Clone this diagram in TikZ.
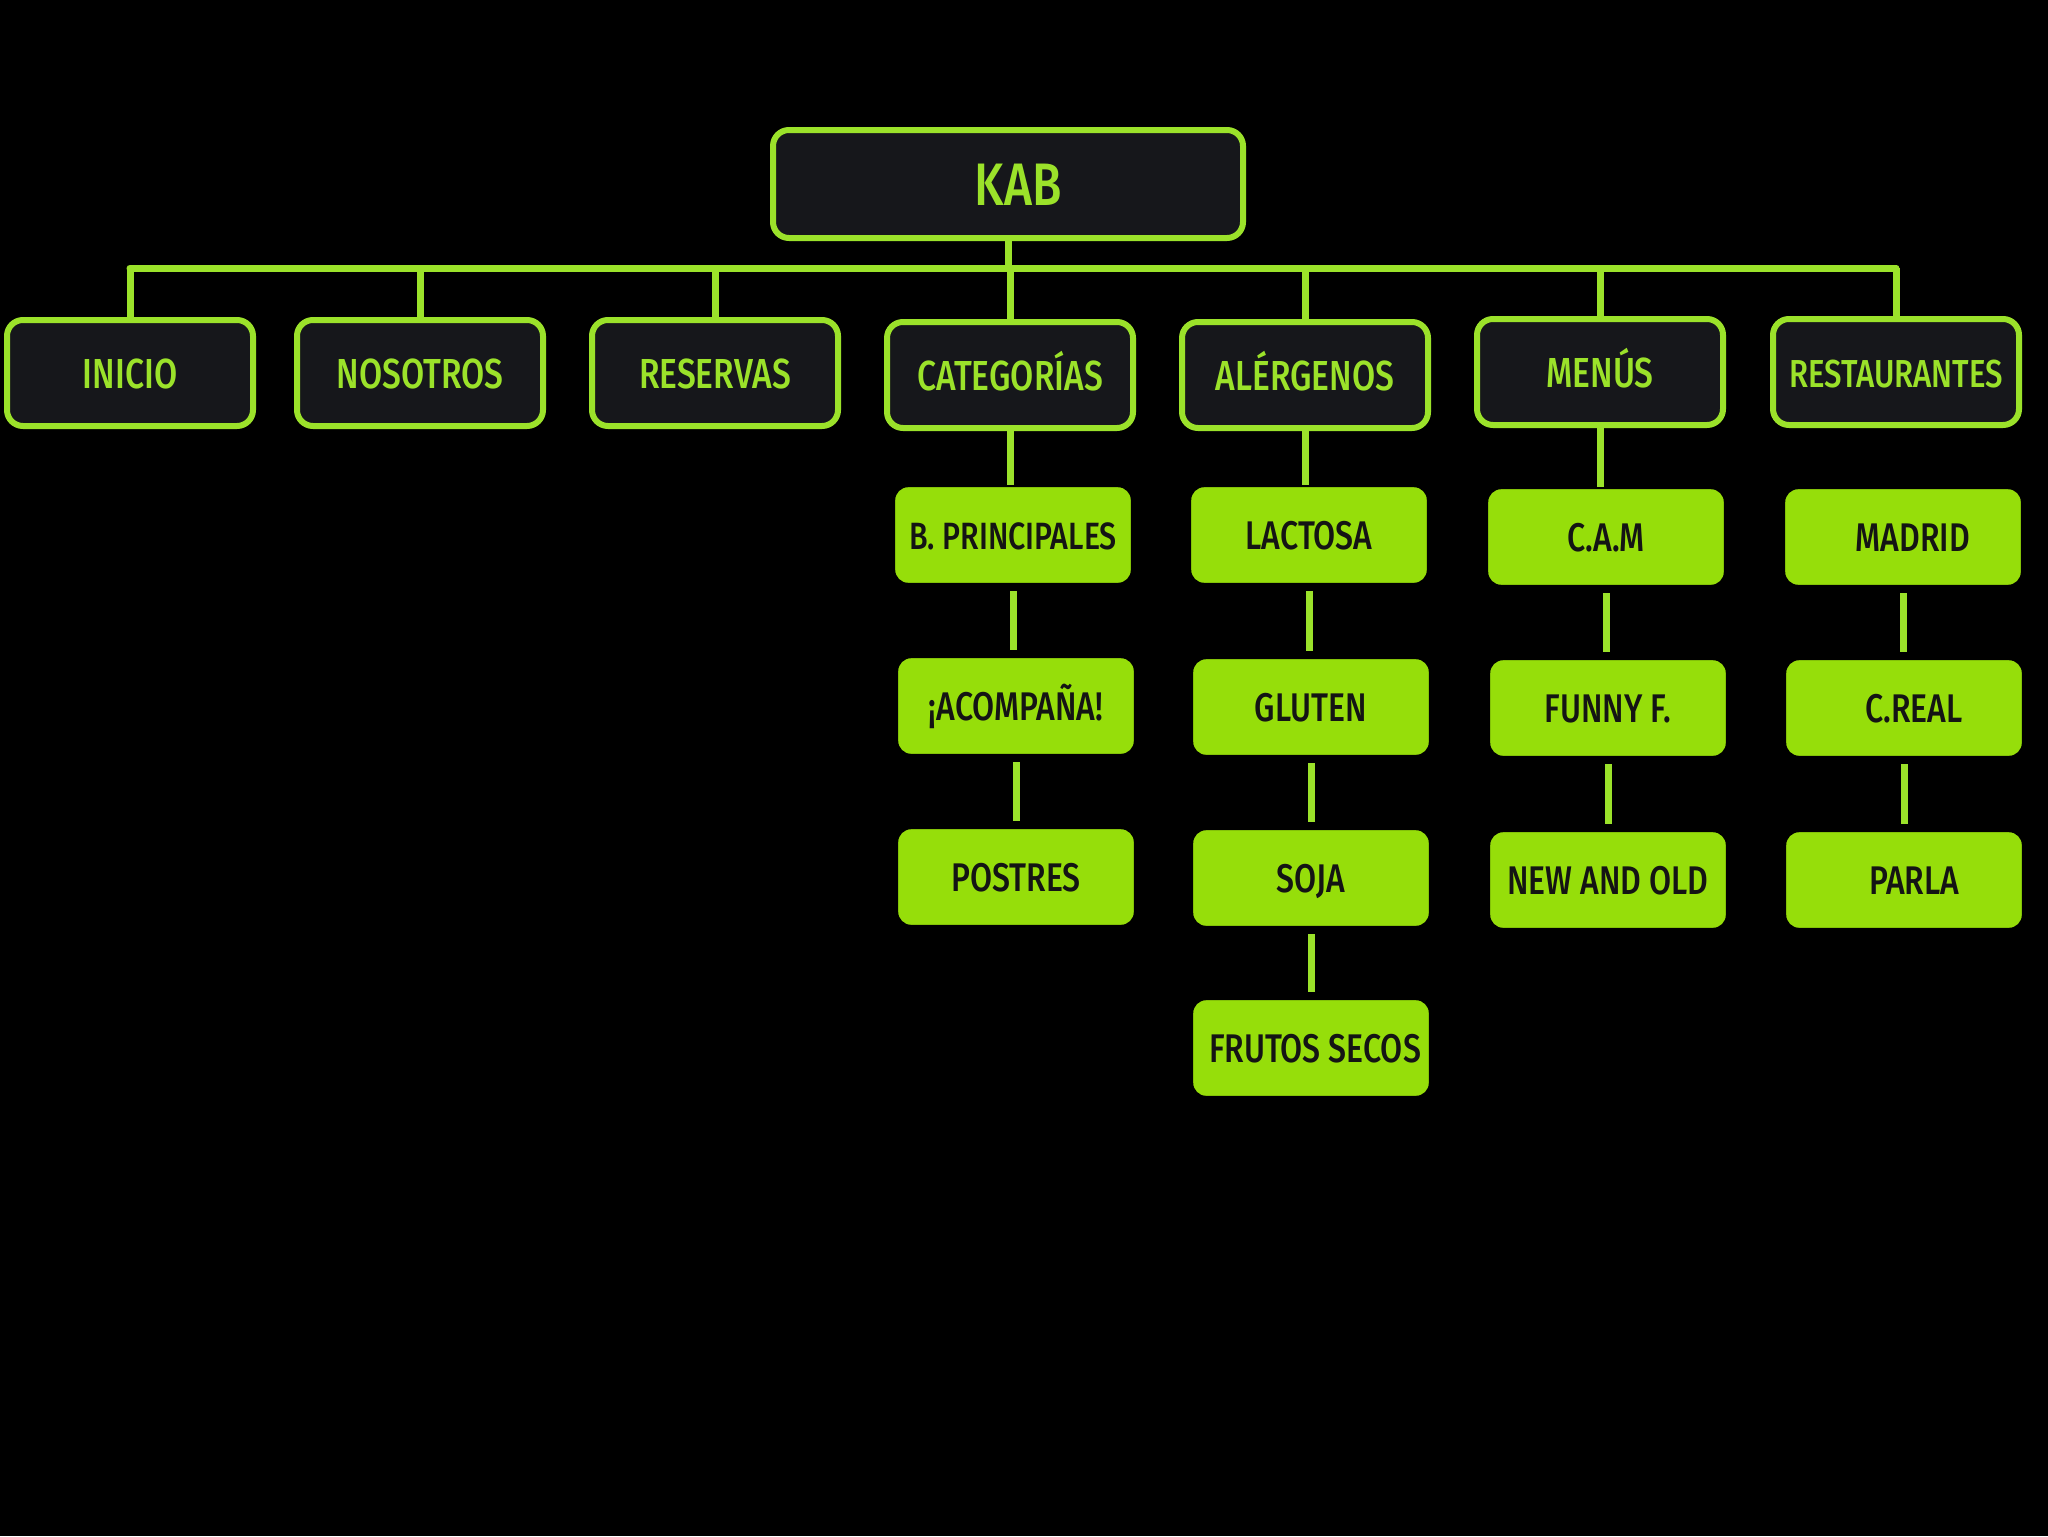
\documentclass[tikz,border=0pt]{standalone}
\usepackage{fontspec}
\newfontfamily\lab{Fira Sans Medium}[FakeStretch=0.8]
\definecolor{lime}{HTML}{96DE0A}
\definecolor{limeline}{HTML}{9BE22A}
\definecolor{darkfill}{HTML}{16171B}
\begin{document}
\begin{tikzpicture}[x=0.5pt,y=-0.5pt,
  darkbox/.style={draw=limeline, line width=3pt, fill=darkfill, rounded corners=8pt,
    minimum width=123pt, minimum height=53pt, inner sep=0pt, text=limeline,
    text height=15pt, text depth=0pt,
    font=\lab\fontsize{21}{21}\selectfont},
  topbox/.style={darkbox, minimum width=235pt, minimum height=54pt,
    text height=21pt, font=\lab\fontsize{30}{30}\selectfont},
  litebox/.style={draw=black, line width=1.2pt, fill=lime, rounded corners=7pt,
    minimum width=119pt, minimum height=49pt, inner sep=0pt, text=black!92,
    text height=14pt, text depth=0pt,
    font=\lab\fontsize{20}{20}\selectfont},
  conn/.style={draw=limeline, line width=3.5pt},
  sub/.style={draw=limeline, line width=3.5pt, shorten <=3pt, shorten >=3pt}]
\fill[black] (0,0) rectangle (2048,1536);
\useasboundingbox (0,0) rectangle (2048,1536);

\node[topbox] (kab) at (1008,184) {\hspace*{10pt}KAB};

\node[darkbox] (inicio) at (130,373) {INICIO};
\node[darkbox] (nos) at (420,373) {NOSOTROS};
\node[darkbox] (res) at (715,373) {RESERVAS};
\node[darkbox] (cat) at (1010,375) {CATEGORÍAS};
\node[darkbox] (ale) at (1305,375) {ALÉRGENOS};
\node[darkbox] (men) at (1600,372) {MENÚS};
\node[darkbox, font=\lab\fontsize{19.5}{19.5}\selectfont] (rest) at (1896,372) {RESTAURANTES};

\node[litebox] (bprin) at (1013,535) {\fontsize{19}{19}\selectfont B. PRINCIPALES};
\node[litebox] (acomp) at (1016,706) {¡ACOMPAÑA!};
\node[litebox] (post) at (1016,877) {POSTRES};

\node[litebox] (lact) at (1309,535) {LACTOSA};
\node[litebox] (glut) at (1311,707) {GLUTEN};
\node[litebox] (soja) at (1311,878) {SOJA};
\node[litebox] (frut) at (1311,1048) {\hspace*{4pt}FRUTOS SECOS};

\node[litebox] (cam) at (1606,537) {C.A.M};
\node[litebox] (funny) at (1608,708) {FUNNY F.};
\node[litebox] (newold) at (1608,880) {NEW AND OLD};

\node[litebox] (mad) at (1903,537) {\hspace*{10pt}MADRID};
\node[litebox] (creal) at (1904,708) {\hspace*{10pt}C.REAL};
\node[litebox] (parla) at (1904,880) {\hspace*{10pt}PARLA};

\coordinate (bus) at (1010,268);
\draw[conn] (kab.south) -- (kab.south |- bus);
\draw[conn, line cap=round] (inicio.north |- bus) -- (rest.north |- bus);
\foreach \n in {inicio,nos,res,cat,ale,men,rest}
  \draw[conn] (\n.north |- bus) -- (\n.north);

\draw[conn] (cat.south) -- (cat.south |- bprin.north);
\draw[conn] (ale.south) -- (ale.south |- lact.north);
\draw[conn] (men.south) -- (men.south |- cam.north);

\draw[sub] (bprin.south) -- (bprin.south |- acomp.north);
\draw[sub] (acomp.south) -- (acomp.south |- post.north);
\draw[sub] (lact.south) -- (lact.south |- glut.north);
\draw[sub] (glut.south) -- (glut.south |- soja.north);
\draw[sub] (soja.south) -- (soja.south |- frut.north);
\draw[sub] (cam.south) -- (cam.south |- funny.north);
\draw[sub] (funny.south) -- (funny.south |- newold.north);
\draw[sub] (mad.south) -- (mad.south |- creal.north);
\draw[sub] (creal.south) -- (creal.south |- parla.north);
\end{tikzpicture}
\end{document}
